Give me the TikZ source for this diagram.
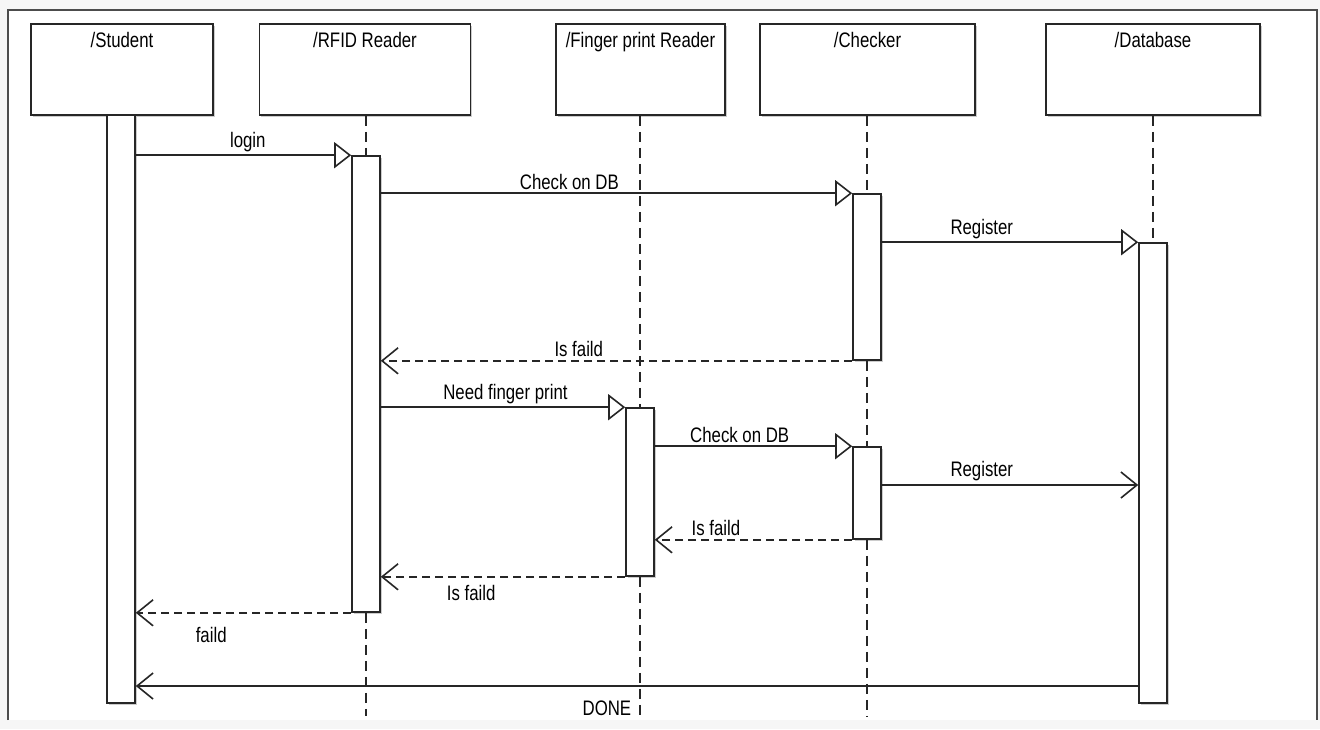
\documentclass[tikz,border=0pt]{standalone}
\usepackage{fontspec}
\setmainfont{Liberation Sans}[FakeStretch=0.8]
\usetikzlibrary{arrows.meta,positioning,shadows}

\tikzset{
  ink/.style={draw=black!85, line width=1.6pt},
  head/.style={ink, fill=white, minimum width=#1, minimum height=91pt, inner sep=0pt,
    general shadow={fill=gray!40, shadow xshift=1.5pt, shadow yshift=-1.5pt}},
  bar/.style={ink, fill=white, minimum width=28pt, minimum height=#1, inner sep=0pt,
    general shadow={fill=gray!40, shadow xshift=1.5pt, shadow yshift=-1.5pt}},
  headtxt/.style={font=\fontsize{21}{24}\selectfont, inner sep=2pt},
  msg/.style={font=\fontsize{21}{24}\selectfont, inner sep=2pt},
  life/.style={draw=black!85, line width=1.2pt, dash pattern=on 10pt off 6pt},
  call/.style={ink, -{Triangle[length=17pt, width=26pt, fill=white]}},
  sync/.style={ink, -{Straight Barb[length=16pt, width=26pt]}},
  reply/.style={ink, dash pattern=on 8pt off 5pt, -{Straight Barb[length=16pt, width=26pt]}}
}

\begin{document}
\begin{tikzpicture}[x=1pt, y=-1pt]
\useasboundingbox (0,0) rectangle (1320,729);

% Frame
\fill[gray!7] (0,0) rectangle (1320,729);
\fill[white] (8,10) rectangle (1317,720);
\draw[draw=black!70, line width=1.2pt] (8,720) -- (8,10) -- (1317,10) -- (1317,720);

% Lifeline heads
\node[head=182pt] (stu) at (122,69.5) {};
\node[head=211pt] (rfid) at (365,69.5) {};
\node[head=169pt] (fp) at (640.5,69.5) {};
\node[head=215pt] (chk) at (867.5,69.5) {};
\node[head=214pt] (db) at (1153,69.5) {};

\node[headtxt, below=7pt of stu.north] (stuT) {/Student};
\node[headtxt, below=7pt of rfid.north] (rfidT) {/RFID Reader};
\node[headtxt, below=7pt of fp.north] (fpT) {/Finger print Reader};
\node[headtxt, below=7pt of chk.north] (chkT) {/Checker};
\node[headtxt, below=7pt of db.north] (dbT) {/Database};

% Lifelines
\coordinate (rfidEnd) at (366,716);
\coordinate (fpEnd) at (640,716);
\coordinate (chkEnd) at (867,716);

% Activation bars
\node[bar=588pt] (stuA) at (121,409) {};
\node[bar=456pt] (rfidA) at (366,384) {};
\node[bar=166pt] (chkA) at (867,277) {};
\node[bar=460pt] (dbA) at (1153,473) {};
\node[bar=168pt] (fpA) at (640,492) {};
\node[bar=92pt] (chkB) at (867,493) {};

\draw[life] (rfid.south -| rfidA.north) -- (rfidA.north);
\draw[life] (rfidA.south) -- (rfidEnd);
\draw[life] (fp.south -| fpA.north) -- (fpA.north);
\draw[life] (fpA.south) -- (fpEnd);
\draw[life] (chk.south -| chkA.north) -- (chkA.north);
\draw[life] (chkA.south) -- (chkB.north);
\draw[life] (chkB.south) -- (chkEnd);
\draw[life] (db.south -| dbA.north) -- (dbA.north);

% Messages
\draw[call] (stuA.east |- rfidA.north) -- (rfidA.north west)
  node[msg, pos=0.52, above=1pt] (mLogin) {login};
\draw[call] (rfidA.east |- chkA.north) -- (chkA.north west)
  node[msg, pos=0.40, above=1pt] (mCheck) {Check on DB};
\draw[call] (chkA.east |- dbA.north) -- (dbA.north west)
  node[msg, pos=0.39, above=1pt] (mReg) {Register};
\draw[reply] (chkA.south west) -- (rfidA.east |- chkA.south)
  node[msg, pos=0.58, above=1pt] (mFail) {Is faild};
\draw[call] (rfidA.east |- fpA.north) -- (fpA.north west)
  node[msg, pos=0.51, above=1pt] (mNeed) {Need finger print};
\draw[call] (fpA.east |- chkB.north) -- (chkB.north west)
  node[msg, pos=0.43, above=1pt] (mCheckB) {Check on DB};
\draw[sync] (chkB.east |- 0,485) -- (dbA.west |- 0,485)
  node[msg, pos=0.39, above=1pt] (mRegB) {Register};
\draw[reply] (chkB.south west) -- (fpA.east |- chkB.south)
  node[msg, pos=0.69, above=1pt] (mFailB) {Is faild};
\draw[reply] (fpA.south west) -- (rfidA.east |- fpA.south)
  node[msg, pos=0.63, below=6pt] (mFailC) {Is faild};
\draw[reply] (rfidA.south west) -- (stuA.east |- rfidA.south)
  node[msg, pos=0.65, below=12pt] (mFailD) {faild};
\draw[sync] (dbA.west |- 0,686) -- (stuA.east |- 0,686)
  node[msg, pos=0.53, below=12pt] (mDone) {DONE};

\end{tikzpicture}
\end{document}
